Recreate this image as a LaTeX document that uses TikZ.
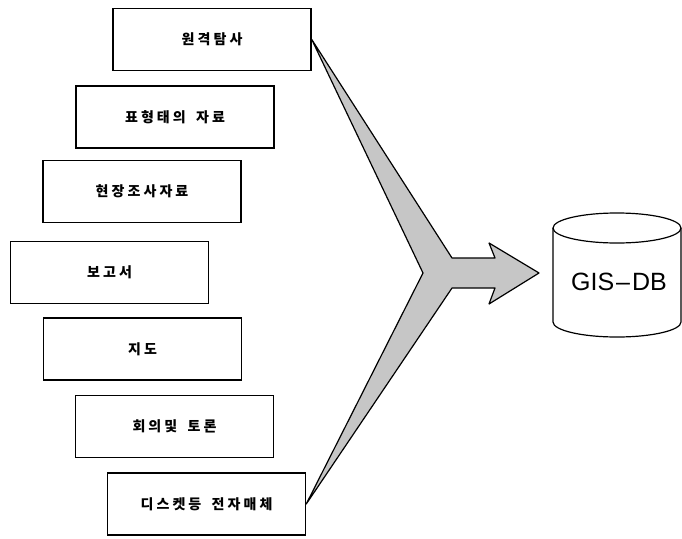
\documentclass[tikz,border=0pt]{standalone}
\usepackage{fontspec}
\newfontfamily\kr[LetterSpace=22]{Noto Sans CJK KR}
\newfontfamily\lat{Liberation Sans}
\tikzset{
  srcbox/.style={draw, line width=1.5pt, minimum width=198pt, minimum height=62pt,
    font=\kr\bfseries\fontsize{14pt}{16pt}\selectfont},
  flow/.style={draw, line width=1.2pt, line join=round, fill=gray!45}
}
\begin{document}
\begin{tikzpicture}[x=1pt, y=-1pt]
            \useasboundingbox (0, 0) rectangle (682, 538);

            \node[srcbox] (rs) at (212, 39.5) {원격탐사};
            \node[srcbox] (tb) at (175, 117) {표형태의\hspace{4pt} 자료};
            \node[srcbox] (fs) at (142, 191.5) {현장조사자료};
            \node[srcbox] (rp) at (109.5, 272.5) {보고서};
            \node[srcbox] (mp) at (142.5, 349) {지도};
            \node[srcbox] (mt) at (174.5, 426.5) {회의및\hspace{4pt} 토론};
            \node[srcbox] (dm) at (206.5, 504) {디스켓등\hspace{4pt} 전자매체};

            % merging arrow
            \coordinate (fork) at (423, 273);
            \coordinate (tip) at (539, 273);
            \draw[flow] (rs.east) -- (452, 258) -- (495, 258) -- (489, 243) -- (tip)
                -- (489, 304) -- (495, 288) -- (452, 288) -- (dm.east) -- (fork) -- cycle;

            % database
            \node[font=\lat\fontsize{25pt}{28pt}\selectfont] (db) at (619, 282) {GIS\kern2pt–\kern2pt DB};
            \draw[line width=1.2pt] (553, 228) -- (553, 322) arc (180:0:64 and 15) -- (681, 228);
            \draw[line width=1.2pt] (617, 228) ellipse (64 and 15);
        \end{tikzpicture}
\end{document}
